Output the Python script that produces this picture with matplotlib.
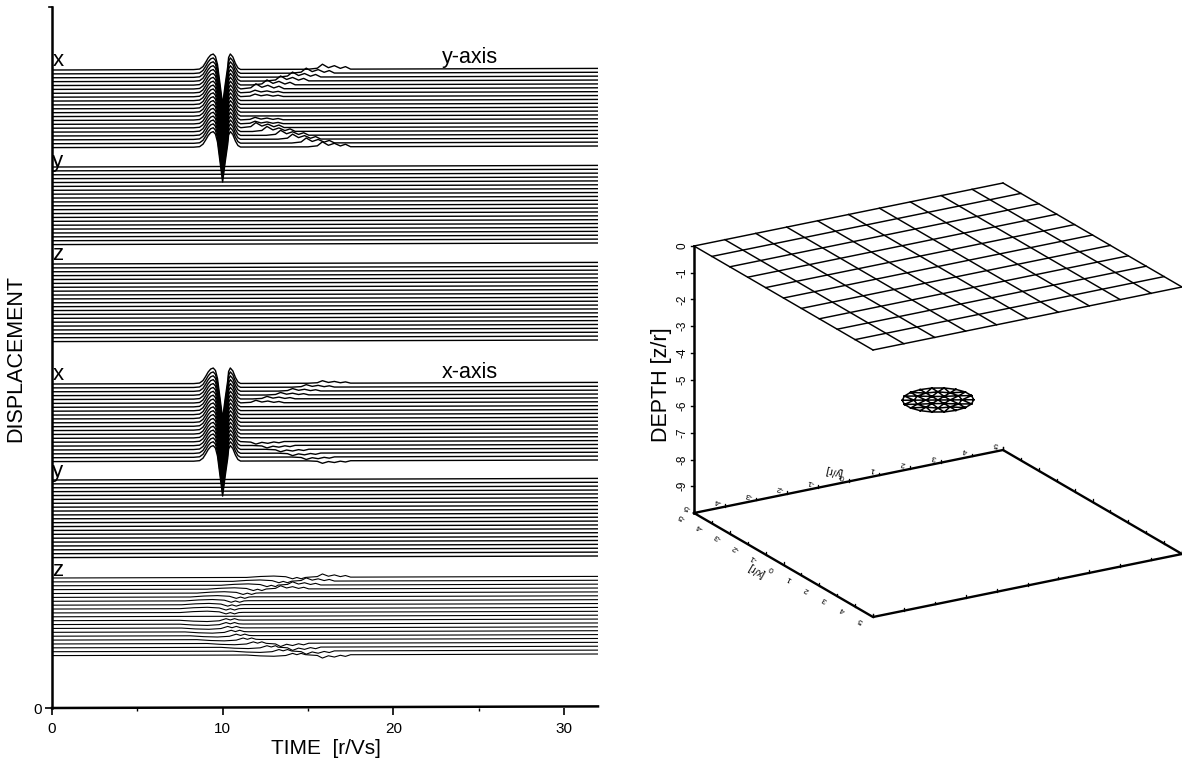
import numpy as np
import matplotlib
matplotlib.use("Agg")
import matplotlib.pyplot as plt
import matplotlib.tri as mtri

plt.rcParams["font.family"] = ["Liberation Sans", "DejaVu Sans"]

W, H = 1182, 760

# -------- LEFT PANEL DATA --------
GROUP_NAMES = ["x", "y", "z", "x", "y", "z"]
GROUP_TOPS = [638, 541, 444, 324, 228, 130]     # baseline of first trace in each group
GROUP_LABEL_Y = [647, 547, 453, 333, 236, 138]
N_TRACES = 21
TRACE_STEP = 3.88
TILT = 1.6

# main pulse of the x component
MAIN_T = [8.3, 8.65, 8.85, 9.0, 9.15, 9.3, 9.45, 9.58, 9.7, 9.85, 10.0, 10.15, 10.3,
          10.35, 10.45, 10.6, 10.75, 10.9, 11.05]
MAIN_A = [0, 0.5, 3, 7, 11.5, 14.5, 15.5, 13, 5, -15, -35, -15, 3, 12, 15.5, 12.5, 6, 1.5, 0]

# trailing wavelet, times relative to its start
RIPPLE_DT = [0, 0.55, 0.85, 1.2, 1.55, 1.9, 2.2, 2.5]
RIPPLE_A = [0, 1, 5, 1.5, 3.5, 0.8, 2.5, 0]
# wavelet start against distance from the group edge
S_START = [15.0, 14.05, 13.25, 12.55, 11.75, 11.1, 11.05, 11.05]

# slow early arrival on the lower z group
ARC_START = [11.4, 10.6, 9.9, 9.1, 8.5, 8.1, 7.8, 7.6, 7.5, 7.5]
ARC_DT = [0, 0.8, 1.6, 2.3, 2.7, 2.95, 3.2, 3.45, 3.7]
ARC_A = [0, 0.9, 1.3, 0.6, -1.5, -0.2, -1.5, -0.2, 0]

X_TICKS = [0, 10, 20, 30]
X_MINOR = [5, 15, 25]

# -------- RIGHT PANEL DATA --------
GRID_VALUES = [-5, -4, -3, -2, -1, 0, 1, 2, 3, 4, 5]
DEPTH_TICKS = [0, -1, -2, -3, -4, -5, -6, -7, -8, -9]
DEPTH_BOTTOM = -10
DISK_DEPTH = -5
RING_R = [0, 0.34, 0.67, 1.0]
RING_N = [1, 6, 12, 18]

# plate projection, pixels per unit
CENTER = (938.0, 266.5)
EX = (17.9, 10.4)
EY = (30.9, -6.3)
EZ = 26.7


def project(x, y, z):
    x, y, z = np.asarray(x, float), np.asarray(y, float), np.asarray(z, float)
    return (CENTER[0] + x * EX[0] + y * EY[0],
            CENTER[1] + x * EX[1] + y * EY[1] - z * EZ)


def build_trace(group, k):
    """time and amplitude knots for one trace, pieces follow each other in time"""
    d = min(k, N_TRACES - 1 - k)
    sign = 1 if k < 10 else (-1 if k > 10 else 0)
    t, a = [0.0], [0.0]

    if group in (0, 3):
        t += MAIN_T
        a += MAIN_A
    if group == 5 and sign != 0:
        stop = S_START[d] if d <= 3 else 99
        for dt, amp in zip(ARC_DT, ARC_A):
            if ARC_START[d] + dt < stop - 0.05:
                t.append(ARC_START[d] + dt)
                a.append(sign * amp)

    scale = {0: 1.0, 3: 0.5 * sign, 5: 0.65 * sign}.get(group, 0)
    last = {0: 7, 3: 5, 5: 3}.get(group, -1)
    if d <= last and scale != 0:
        if d > 5:
            scale = scale * 0.5
        for dt, amp in zip(RIPPLE_DT, RIPPLE_A):
            t.append(S_START[d] + dt)
            a.append(scale * amp)

    t.append(32.0)
    a.append(0.0)
    return np.array(t), np.array(a)


fig = plt.figure(figsize=(W / 100, H / 100), dpi=100)

# -------- LEFT PANEL --------
ax = fig.add_axes([52 / W, (H - 708) / H, (598 - 52) / W, 701 / H])
ax.set_xlim(0, 32)
ax.set_ylim(0, 701)

for g, top in enumerate(GROUP_TOPS):
    lw = 0.8 if g == 5 else 1.0
    for k in range(N_TRACES):
        t, a = build_trace(g, k)
        base = top - k * TRACE_STEP
        ax.plot(t, base + a + TILT * t / 32, color="black", lw=lw, solid_joinstyle="round")
    ax.text(0.02, GROUP_LABEL_Y[g], GROUP_NAMES[g], fontsize=16, ha="left", va="center")

ax.plot([0, 32], [0, TILT], color="black", lw=1.8, clip_on=False)
ax.spines[["top", "right", "bottom"]].set_visible(False)
ax.spines["left"].set_linewidth(1.8)
ax.set_xticks(X_TICKS)
ax.set_xticks(X_MINOR, minor=True)
ax.set_yticks([0])
ax.tick_params(axis="x", which="major", length=5, width=1.2, labelsize=11, pad=5)
ax.tick_params(axis="y", which="major", length=5, width=1.2, labelsize=11, pad=2)
ax.tick_params(axis="x", which="minor", length=2.5, width=1)
ax.plot([-0.2, 0], [701, 701], color="black", lw=1.2, clip_on=False)

ax.set_xlabel("TIME  [r/Vs]", fontsize=15, va="center")
ax.set_ylabel("DISPLACEMENT", fontsize=15.5, va="center")
ax.yaxis.set_label_coords(-36 / (598 - 52), (708 - 358) / 701)
ax.xaxis.set_label_coords((326 - 52) / (598 - 52), -(748 - 708) / 701)

ax.text(24.5, 651, "y-axis", fontsize=15.5, ha="center", va="center")
ax.text(24.5, 335, "x-axis", fontsize=15.5, ha="center", va="center")

# -------- RIGHT PANEL --------
ax3 = fig.add_axes([0, 0, 1, 1])
ax3.set_xlim(0, W)
ax3.set_ylim(H, 0)
ax3.axis("off")
ax3.patch.set_alpha(0)

# top plate grid
for v in GRID_VALUES:
    ax3.plot(*project([v, v], [-5, 5], [0, 0]), color="black", lw=1.05)
    ax3.plot(*project([-5, 5], [v, v], [0, 0]), color="black", lw=1.05)

# bottom plate outline
bx = [-5, 5, 5, -5, -5]
by = [-5, -5, 5, 5, -5]
ax3.plot(*project(bx, by, [DEPTH_BOTTOM] * 5), color="black", lw=1.7)

# depth axis
ax3.plot(*project([-5, -5], [-5, -5], [0, DEPTH_BOTTOM]), color="black", lw=1.8)
for z in DEPTH_TICKS:
    sx, sy = project(-5, -5, z)
    ax3.plot([sx - 3, sx], [sy, sy], color="black", lw=1)
    ax3.text(sx - 12, sy, str(z), fontsize=8.5, rotation=90, ha="center", va="center")
sx, sy = project(-5, -5, -5.2)
ax3.text(662, sy, "DEPTH [z/r]", fontsize=15.5, rotation=90, ha="center", va="center")

# ticks and labels on the bottom plate
for v in GRID_VALUES:
    for px_, py_ in [(v, -5), (v, 5), (-5, v), (5, v)]:
        ax3.plot(*project([px_, px_], [py_, py_], [DEPTH_BOTTOM, DEPTH_BOTTOM + 0.1]),
                 color="black", lw=0.9)
    sx, sy = project(v, -5, DEPTH_BOTTOM)
    ax3.text(sx - 12, sy + 3, str(v), fontsize=6, rotation=150, ha="center", va="center")
    sx, sy = project(-5, v, DEPTH_BOTTOM)
    ax3.text(sx - 7, sy - 6, str(v), fontsize=6, rotation=168, ha="center", va="center")

sx, sy = project(0, -5, DEPTH_BOTTOM)
ax3.text(sx - 27, sy + 5, "[x/r]", fontsize=7.5, rotation=150, ha="center", va="center")
sx, sy = project(-5, 0, DEPTH_BOTTOM)
ax3.text(sx - 15, sy - 10, "[y/r]", fontsize=7.5, rotation=168, ha="center", va="center")

# meshed disk
node_x, node_y = [], []
for r, n in zip(RING_R, RING_N):
    ang = np.arange(n) * 2 * np.pi / n
    node_x += list(r * np.cos(ang))
    node_y += list(r * np.sin(ang))
node_x, node_y = np.array(node_x), np.array(node_y)
mesh = mtri.Triangulation(node_x, node_y)
sx, sy = project(node_x, node_y, np.full(node_x.shape, DISK_DEPTH))
ax3.triplot(mtri.Triangulation(sx, sy, mesh.triangles), color="black", lw=1.1)

fig.savefig("out.png", dpi=100)
